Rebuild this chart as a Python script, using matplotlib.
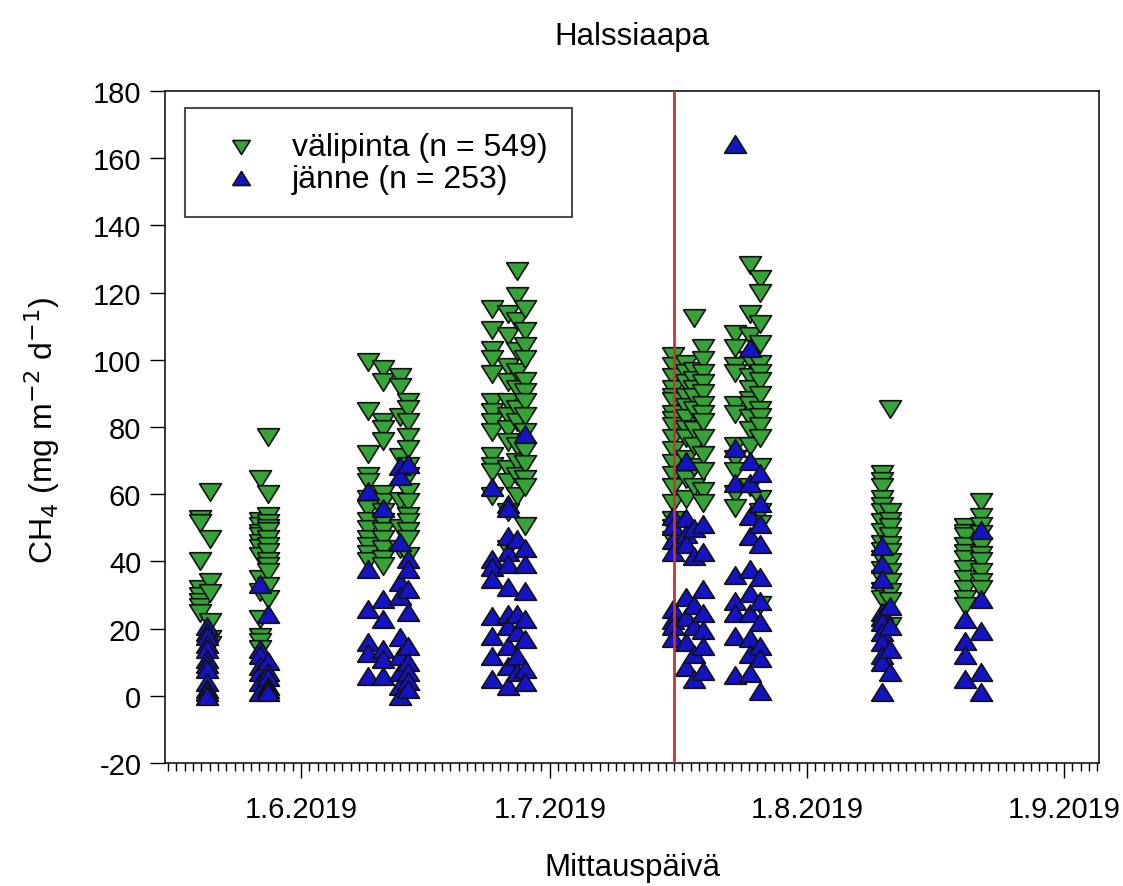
import matplotlib
matplotlib.use('Agg')
import matplotlib.pyplot as plt
import matplotlib.dates as mdates
import numpy as np

plt.rcParams['font.family'] = ['Liberation Sans', 'DejaVu Sans']
plt.rcParams['axes.unicode_minus'] = False

# ---------------------------------------------------------------------------
# Data read off the figure: CH4 flux (mg m-2 d-1) per measurement column
# ---------------------------------------------------------------------------
# välipinta (intermediate surface), green down-triangles
VALI_DATES = [
    "2019-05-19 20:00", "2019-05-21 01:00",
    "2019-05-27 01:00", "2019-05-28 00:30",
    "2019-06-09 02:00", "2019-06-10 21:00", "2019-06-12 22:00", "2019-06-13 21:00",
    "2019-06-24 00:00", "2019-06-25 23:00", "2019-06-27 00:30", "2019-06-27 23:50",
    "2019-07-15 20:00", "2019-07-17 09:00", "2019-07-18 08:00", "2019-07-19 10:00",
    "2019-07-23 07:00", "2019-07-25 02:00", "2019-07-26 07:00",
    "2019-08-10 00:00", "2019-08-10 23:00",
    "2019-08-20 00:00", "2019-08-22 01:00",
]
vali_0519 = [52.6, 51.5, 40.0, 31.8, 29.7, 28.0, 26.5, 24.5]
vali_0521 = [60.6, 46.7, 33.8, 30.5, 22.0, 17.0, 15.0]
vali_0527 = [64.5, 52.0, 50.5, 48.5, 47.5, 45.5, 44.0, 41.6, 34.7, 30.9, 22.8, 17.5, 16.0, 14.0]
vali_0528 = [77.0, 60.0, 53.5, 51.5, 50.0, 49.0, 46.6, 44.5, 42.7, 40.0, 38.6, 36.8, 32.7, 28.9]
vali_0609 = [99.3, 84.8, 72.0, 65.4, 63.6, 58.6, 55.6, 52.0, 49.6, 46.7, 44.6, 42.2, 40.0]
vali_0610 = [97.3, 93.3, 81.4, 79.4, 75.8, 60.0, 57.6, 54.7, 51.7, 49.0, 46.7, 43.7, 40.7, 38.6]
vali_0612 = [94.8, 91.9, 83.0, 71.0, 58.0, 50.0, 43.7]
vali_0613 = [87.4, 85.3, 81.4, 77.0, 73.4, 68.4, 65.4, 60.5, 57.6, 53.5, 51.7, 49.0, 46.7, 41.6]
vali_0624 = [115.0, 109.0, 103.0, 100.2, 95.8, 87.4, 84.4, 81.4, 78.5, 71.4, 68.5, 66.5, 59.5]
vali_0625 = [113.6, 107.0, 97.8, 93.3, 87.4, 83.3, 79.4, 75.5, 67.5, 63.5, 54.7, 43.7]
vali_0627 = [126.4, 119.0, 111.5, 102.6, 96.4, 91.3, 85.3, 81.4, 74.4, 69.5, 65.4, 59.5]
vali_0628 = [115.0, 108.6, 104.0, 100.2, 93.7, 90.3, 87.4, 83.3, 78.5, 72.8, 69.0, 64.5, 62.0, 50.5]
vali_0715 = [101.0, 98.0, 94.9, 91.3, 89.0, 87.6, 84.0, 82.0, 80.3, 76.7, 73.1, 69.4, 65.8,
             62.1, 57.3, 52.4, 50.0, 46.3]
vali_0717 = [98.6, 96.0, 93.1, 88.8, 86.0, 82.8, 79.5, 76.7, 70.6, 64.6, 58.5]
vali_0718 = [112.5, 96.7, 94.0, 91.3, 89.0, 85.2, 79.1, 74.3, 68.2, 62.1]
vali_0719 = [103.4, 99.8, 96.1, 93.0, 90.1, 86.4, 84.0, 81.6, 76.7, 71.8, 67.0, 60.9, 57.3]
vali_0723 = [107.7, 103.4, 98.0, 96.1, 86.4, 84.0, 74.3, 70.6, 67.0, 60.0, 56.0]
vali_0725 = [128.3, 113.7, 107.1, 99.8, 94.9, 91.3, 88.0, 86.4, 82.8, 79.1, 74.3, 62.1]
vali_0726 = [124.1, 119.8, 110.7, 104.6, 98.6, 96.0, 93.7, 89.5, 85.2, 83.0, 80.3, 76.7,
             68.2, 58.5, 54.8, 51.2, 26.9]
vali_0810 = [66.0, 64.0, 62.0, 58.6, 56.5, 54.6, 51.6, 48.7, 45.2, 43.0, 40.7, 37.3, 34.8,
             31.3, 28.8]
vali_0811 = [85.4, 54.6, 52.0, 50.1, 47.7, 45.0, 42.7, 39.7, 36.8, 33.8, 30.8, 28.3, 20.9]
vali_0820 = [50.1, 48.5, 47.7, 44.7, 42.5, 40.7, 37.8, 34.8, 31.8, 28.8, 26.8]
vali_0822 = [57.6, 53.1, 50.6, 48.0, 44.7, 42.0, 40.2, 36.8, 33.8, 31.8]
VALI_VALUES = [
    vali_0519, vali_0521, vali_0527, vali_0528,
    vali_0609, vali_0610, vali_0612, vali_0613,
    vali_0624, vali_0625, vali_0627, vali_0628,
    vali_0715, vali_0717, vali_0718, vali_0719,
    vali_0723, vali_0725, vali_0726,
    vali_0810, vali_0811, vali_0820, vali_0822,
]

# jänne (string), blue up-triangles
JANNE_DATES = [
    "2019-05-20 16:00",
    "2019-05-27 01:00", "2019-05-28 00:30",
    "2019-06-09 02:00", "2019-06-10 21:00", "2019-06-12 22:00", "2019-06-13 21:00",
    "2019-06-24 00:00", "2019-06-25 23:00", "2019-06-27 00:30", "2019-06-27 23:50",
    "2019-07-15 20:00", "2019-07-17 09:00", "2019-07-18 08:00", "2019-07-19 10:00",
    "2019-07-23 07:00", "2019-07-25 02:00", "2019-07-26 07:00",
    "2019-08-10 00:00", "2019-08-10 23:00",
    "2019-08-20 00:00", "2019-08-22 01:00",
]
janne_0520 = [20.8, 19.0, 17.8, 15.5, 14.0, 11.0, 9.5, 8.0, 4.0, 2.0, 1.0, 0.0]
janne_0527 = [33.3, 13.9, 12.0, 9.0, 7.1, 4.0, 1.0]
janne_0528 = [24.3, 10.4, 7.0, 5.5, 3.0, 2.0, 1.0]
janne_0609 = [61.0, 37.7, 25.8, 16.0, 12.8, 5.9]
janne_0610 = [56.0, 28.8, 22.8, 13.9, 10.9, 5.9]
janne_0612 = [68.5, 65.4, 45.7, 33.8, 29.7, 17.5, 11.9, 7.0, 2.9, 0.0]
janne_0613 = [69.0, 40.7, 37.7, 31.8, 24.9, 14.8, 10.0, 7.0, 4.5, 2.0]
janne_0624 = [62.0, 40.7, 38.3, 34.7, 23.8, 17.8, 11.9, 5.0]
janne_0625 = [57.0, 56.0, 47.5, 42.7, 39.2, 32.4, 24.3, 20.8, 14.8, 8.9, 3.0]
janne_0627 = [46.7, 24.3, 19.0, 11.9, 7.0]
janne_0628 = [78.0, 44.0, 39.2, 31.2, 22.8, 16.9, 8.0, 4.0]
janne_0715 = [53.6, 50.5, 46.3, 42.7, 25.7, 22.5, 20.8, 17.2]
janne_0717 = [70.0, 53.0, 48.0, 45.1, 29.3, 23.3, 16.0, 8.7]
janne_0718 = [50.0, 41.5, 26.9, 20.8, 12.3, 5.0]
janne_0719 = [51.2, 42.7, 31.8, 24.5, 19.6, 14.8, 7.5]
janne_0723 = [164.2, 73.7, 63.3, 36.0, 28.1, 24.5, 17.8, 6.2]
janne_0725 = [103.4, 70.0, 63.3, 53.6, 47.5, 37.8, 30.5, 24.5, 17.2, 12.3, 6.9]
janne_0726 = [66.4, 57.3, 51.2, 45.1, 35.4, 28.1, 22.0, 14.8, 11.1, 1.4]
janne_0810 = [44.7, 39.2, 34.8, 24.9, 23.5, 21.9, 18.9, 15.9, 12.0, 10.0, 1.0]
janne_0811 = [26.8, 20.9, 13.9, 7.0]
janne_0820 = [22.9, 16.4, 12.0, 5.0]
janne_0822 = [49.2, 28.8, 19.4, 7.0, 1.0]
JANNE_VALUES = [
    janne_0520, janne_0527, janne_0528,
    janne_0609, janne_0610, janne_0612, janne_0613,
    janne_0624, janne_0625, janne_0627, janne_0628,
    janne_0715, janne_0717, janne_0718, janne_0719,
    janne_0723, janne_0725, janne_0726,
    janne_0810, janne_0811, janne_0820, janne_0822,
]

VALI_LABEL = "välipinta (n = 549)"
JANNE_LABEL = "jänne (n = 253)"
EVENT_DATE = "2019-07-16 00:00"
X_START, X_END = "2019-05-15 14:40", "2019-09-05 05:00"


def to_dt(s):
    return np.datetime64(s.replace(" ", "T"))


def expand(dates, values):
    """Flatten per-column lists into x (datetime) and y arrays."""
    xs, ys = [], []
    for d, vals in zip(dates, values):
        xs += [to_dt(d)] * len(vals)
        ys += vals
    return np.array(xs), np.array(ys)


vx, vy = expand(VALI_DATES, VALI_VALUES)
jx, jy = expand(JANNE_DATES, JANNE_VALUES)

# slightly flattened triangles, as in the original
down_tri = [(-1, 0.8), (1, 0.8), (0, -0.8), (-1, 0.8)]
up_tri = [(-1, -0.8), (1, -0.8), (0, 0.8), (-1, -0.8)]

fig = plt.figure(figsize=(11.23, 8.87), dpi=100)
ax = fig.add_axes([0.1469, 0.1387, 0.8317, 0.7576])

ax.scatter(vx, vy, marker=down_tri, s=250, c='#36a336', edgecolors='#111111',
           linewidths=1.2, label=VALI_LABEL, zorder=3)
ax.scatter(jx, jy, marker=up_tri, s=250, c='#1414c4', edgecolors='#111111',
           linewidths=1.2, label=JANNE_LABEL, zorder=3)

ax.axvline(to_dt(EVENT_DATE), color='#c83434', lw=2, zorder=4)

ax.set_xlim(to_dt(X_START), to_dt(X_END))
ax.set_ylim(-20, 180)
ax.set_yticks(np.arange(-20, 181, 20))

ax.xaxis.set_major_locator(mdates.MonthLocator())
ax.xaxis.set_minor_locator(mdates.DayLocator())


def date_label(v, _):
    d = mdates.num2date(v)
    return f"{d.day}.{d.month}.{d.year}"


ax.xaxis.set_major_formatter(plt.FuncFormatter(date_label))

ax.tick_params(axis='both', which='major', direction='out', length=11, width=1,
               labelsize=21, top=False, right=False)
ax.tick_params(axis='x', which='major', pad=12)
ax.tick_params(axis='y', which='major', pad=6)
ax.tick_params(axis='x', which='minor', direction='out', length=6, width=1, top=False)
for sp in ax.spines.values():
    sp.set_linewidth(1.1)

leg = ax.legend(loc='upper left', bbox_to_anchor=(0.0214, 0.9747), fontsize=23,
                frameon=True, fancybox=False, edgecolor='#222222', borderpad=0.75,
                labelspacing=0.05, handlelength=2.0, handletextpad=0.6,
                borderaxespad=0, scatterpoints=1, markerscale=0.8)
leg.get_frame().set_linewidth(1.5)

fig.text(632 / 1123, 1 - 37 / 887, "Halssiaapa", ha='center', va='center', fontsize=22.5)
fig.text(632 / 1123, 1 - 868 / 887, "Mittauspäivä", ha='center', va='center', fontsize=22.5)
fig.text(42 / 1123, 1 - 430 / 887, r"CH$_4$ (mg m$^{-2}$ d$^{-1}$)", ha='center',
         va='center', rotation=90, fontsize=23)

fig.savefig("out.png", dpi=100)
